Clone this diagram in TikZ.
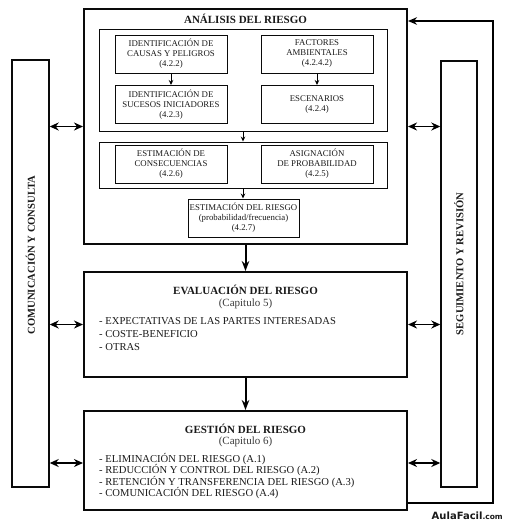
\documentclass[tikz,border=0pt]{standalone}
\usepackage{fontspec}
\setmainfont{Liberation Serif}
\newfontfamily\arwmfont{DejaVu Sans}
\usetikzlibrary{arrows.meta}
\definecolor{ardark}{RGB}{25,25,25}
\definecolor{arline}{RGB}{10,10,10}
\def\arCell#1#2#3{\node[arcell] (#1) at (#2) {#3};}
\def\arDbl#1#2{\draw[ardbl] (#1.east |- #2.west) -- (#2.west);}
\def\arDbr#1#2{\draw[ardbl] (#1.east) -- (#2.west |- #1.east);}

\begin{document}
\begin{tikzpicture}[
    x=1pt, y=-1pt,
    armain/.style  = {draw=arline, line width=2pt, inner sep=0pt},
    argroup/.style = {draw=arline, line width=0.9pt, inner sep=0pt},
    arcell/.style  = {draw=arline, line width=1pt, inner sep=0pt, align=center,
                      minimum width=112, minimum height=38,
                      font=\fontsize{8.8}{10}\selectfont, text=ardark},
    arside/.style  = {draw=arline, line width=1.4pt, inner sep=0pt},
    artitle/.style = {font=\fontsize{11}{13}\selectfont\bfseries, text=ardark, inner sep=0pt},
    arsub/.style   = {font=\fontsize{11}{13}\selectfont, text=ardark!85, inner sep=0pt},
    arlist/.style  = {align=left, anchor=north west, text=ardark, inner sep=0pt},
    arvert/.style  = {rotate=90, font=\fontsize{10.6}{12}\selectfont\bfseries, text=ardark, inner sep=0pt},
    arthin/.style  = {-{Stealth[length=5pt,width=4.5pt]}, line width=0.9pt},
    arthick/.style = {-{Stealth[length=10pt,width=7.5pt]}, line width=2pt},
    ardbl/.style   = {{Stealth[length=9pt,width=8pt]}-{Stealth[length=9pt,width=8pt]}, line width=1.8pt}]

  \useasboundingbox (0,0) rectangle (506,523);

  %% ---- main column -------------------------------------------------
  \node[armain, minimum width=323, minimum height=235] (analisis)   at (245.5,126.5) {};
  \node[armain, minimum width=323, minimum height=105] (evaluacion) at (245.5,324.5) {};
  \node[armain, minimum width=323, minimum height=99]  (gestion)    at (245.5,460.5) {};

  %% ---- side columns ------------------------------------------------
  \node[arside, minimum width=37, minimum height=427] (comunic) at (30.5,273.5) {};
  \node[arside, minimum width=36, minimum height=426] (seguim)  at (459,274)    {};
  \node[arvert] (comtxt) at (30.5,255) {COMUNICACIÓN Y CONSULTA};
  \node[arvert] (segtxt) at (459,264)  {SEGUIMIENTO Y REVISIÓN};

  %% ---- (1) análisis ------------------------------------------------
  \node[artitle] (antitle) at (245.5,19) {ANÁLISIS DEL RIESGO};
  \node[argroup, minimum width=288, minimum height=102] (grupoa) at (243,80)  {};
  \node[argroup, minimum width=288, minimum height=46]  (grupob) at (243,165) {};
  \arCell{causas}{171,54}{IDENTIFICACIÓN DE\\CAUSAS Y PELIGROS\\(4.2.2)}
  \arCell{factores}{317,54}{FACTORES\\AMBIENTALES\\(4.2.4.2)}
  \arCell{sucesos}{171,104.5}{IDENTIFICACIÓN DE\\SUCESOS INICIADORES\\(4.2.3)}
  \arCell{escen}{317,104.5}{ESCENARIOS\\(4.2.4)}
  \arCell{consec}{171,164}{ESTIMACIÓN DE\\CONSECUENCIAS\\(4.2.6)}
  \arCell{asign}{317,164}{ASIGNACIÓN\\DE PROBABILIDAD\\(4.2.5)}
  \node[arcell, minimum width=111] (estim) at (243.5,218)
    {ESTIMACIÓN DEL RIESGO\\(probabilidad/frecuencia)\\(4.2.7)};
  \draw[arthin] (causas) -- (sucesos);
  \draw[arthin] (factores) -- (escen);
  \draw[arthin] (grupoa) -- (grupob);
  \draw[arthin] (grupob.south) -- (grupob.south |- estim.north);

  %% ---- (2) evaluación ----------------------------------------------
  \node[artitle] (evtitle) at (245.5,290) {EVALUACIÓN DEL RIESGO};
  \node[arsub]   (evsub)   at (245.5,304) {(Capitulo 5)};
  \node[arlist, font=\fontsize{10.6}{13}\selectfont] (evlist) at (99,317)
    {- EXPECTATIVAS DE LAS PARTES INTERESADAS\\- COSTE-BENEFICIO\\- OTRAS};

  %% ---- (3) gestión -------------------------------------------------
  \node[artitle] (getitle) at (245.5,429) {GESTIÓN DEL RIESGO};
  \node[arsub]   (gesub)   at (245.5,442) {(Capitulo 6)};
  \node[arlist, font=\fontsize{10.6}{11.4}\selectfont] (gelist) at (99,453)
    {- ELIMINACIÓN DEL RIESGO (A.1)\\- REDUCCIÓN Y CONTROL DEL RIESGO (A.2)\\%
     - RETENCIÓN Y TRANSFERENCIA DEL RIESGO (A.3)\\- COMUNICACIÓN DEL RIESGO (A.4)};

  %% ---- connectors --------------------------------------------------
  \draw[arthick] (analisis) -- (evaluacion);
  \draw[arthick] (evaluacion) -- (gestion);
  \arDbl{comunic}{analisis}
  \arDbl{comunic}{evaluacion}
  \draw[ardbl] (comunic.east |- 0,463) -- (gestion.west |- 0,463);
  \arDbr{analisis}{seguim}
  \arDbr{evaluacion}{seguim}
  \draw[ardbl] (gestion.east |- 0,463) -- (seguim.west |- 0,463);
  \coordinate (fbcorner) at (493,503);
  \draw[-{Stealth[length=9pt,width=7.5pt]}, line width=2pt]
    (gestion.east |- fbcorner) -- (fbcorner) |- ([yshift=-13pt]analisis.north east);

  \node[anchor=east, inner sep=0pt, text=ardark] (wmark) at (503,516)
    {\arwmfont\bfseries\fontsize{10}{12}\selectfont AulaFacil\fontsize{7.5}{12}\selectfont.com};
\end{tikzpicture}
\end{document}
